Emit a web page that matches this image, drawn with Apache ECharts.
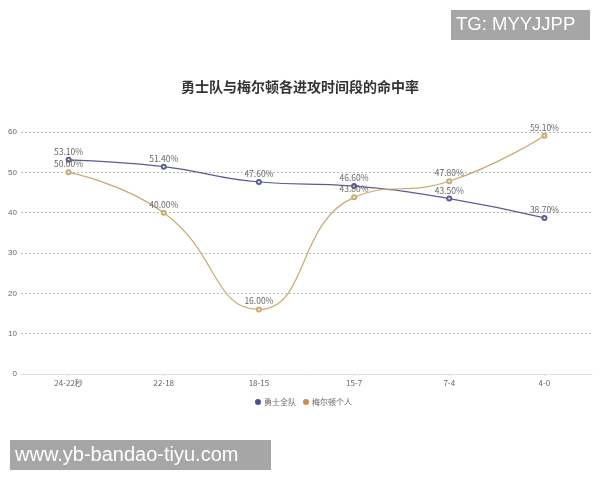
<!DOCTYPE html>
<html><head><meta charset="utf-8">
<script src="https://cdn.jsdelivr.net/npm/echarts@6/dist/echarts.min.js"></script>
<style>html,body{margin:0;padding:0;background:#fff}#c{width:600px;height:480px}</style>
</head><body><div id="c"></div>
<script>
const categories = ['24-22秒','22-18','18-15','15-7','7-4','4-0'];
const warriors = [53.1, 51.4, 47.6, 46.6, 43.5, 38.7];
const melton = [50.0, 40.0, 16.0, 43.8, 47.8, 59.1];
const seriesNames = ['勇士全队','梅尔顿个人'];
const yTicks = {min:0, max:60, interval:10};

const chart = echarts.init(document.getElementById('c'));
const lbl = {show:true, position:'top', distance:1, fontSize:8.5, color:'#666', fontFamily:'Noto Sans CJK SC',
  formatter: p => p.value.toFixed(2) + '%'};
chart.setOption({
  animation:false,
  title:{text:'勇士队与梅尔顿各进攻时间段的命中率', left:'center', top:75,
    textStyle:{fontSize:14, fontWeight:'bold', color:'#333', fontFamily:'Noto Sans CJK SC'}},
  legend:{data:[{name:seriesNames[0], itemStyle:{color:'#4a4f9c'}},{name:seriesNames[1], itemStyle:{color:'#d08c4c'}}],
    left:250, top:393, icon:'circle', itemWidth:6, itemHeight:6, itemGap:7,
    textStyle:{fontSize:8, color:'#666', fontFamily:'Noto Sans CJK SC', padding:[0,0,0,-2]}},
  grid:{left:21, right:8, top:132, bottom:106, containLabel:false},
  xAxis:{type:'category', data:categories, boundaryGap:true,
    axisLine:{lineStyle:{color:'#ddd'}}, axisTick:{show:true, alignWithLabel:true, length:2, lineStyle:{color:'#ddd'}},
    axisLabel:{fontSize:8, color:'#666', margin:5, fontFamily:'Noto Sans CJK SC'}},
  yAxis:{type:'value', min:yTicks.min, max:yTicks.max, interval:yTicks.interval,
    axisLine:{show:false}, axisTick:{show:false},
    axisLabel:{fontSize:8, color:'#666', margin:4},
    splitLine:{lineStyle:{color:'#bbb', type:[2,2]}}},
  series:[
    {name:seriesNames[0], type:'line', data:warriors, smooth:true, symbol:'emptyCircle', symbolSize:4,
     lineStyle:{color:'#5a5d90', width:1.2}, itemStyle:{color:'#5a5d90'}, label:lbl},
    {name:seriesNames[1], type:'line', data:melton, smooth:true, symbol:'emptyCircle', symbolSize:4,
     lineStyle:{color:'#c9a96e', width:1.2}, itemStyle:{color:'#c9a96e'}, label:lbl}
  ],
  graphic:[
    {type:'rect', shape:{x:451, y:10, width:139, height:30}, style:{fill:'#a6a6a6'}},
    {type:'text', x:456, y:25, style:{text:'TG: MYYJJPP', fill:'#fff', fontSize:18.5, fontFamily:'Liberation Sans', align:'left', verticalAlign:'middle'}},
    {type:'rect', shape:{x:10, y:440, width:261, height:30}, style:{fill:'#a6a6a6'}},
    {type:'text', x:15, y:455, style:{text:'www.yb-bandao-tiyu.com', fill:'#fff', fontSize:20, fontFamily:'Liberation Sans', align:'left', verticalAlign:'middle'}}
  ]
});
</script></body></html>
